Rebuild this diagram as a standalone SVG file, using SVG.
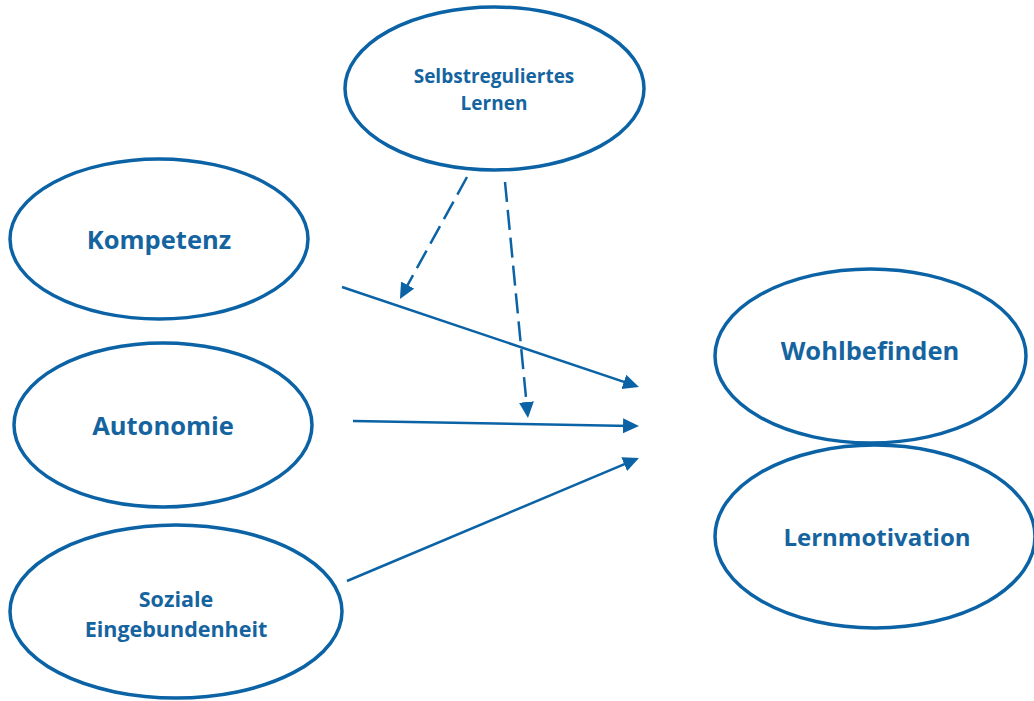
<svg xmlns="http://www.w3.org/2000/svg" width="1034" height="701" viewBox="0 0 1034 701">
<style>
.node ellipse{fill:#ffffff;stroke:#0b63a6;stroke-width:3.5}
.lbl{font-family:"Open Sans","Liberation Sans",sans-serif;font-weight:bold;fill:#15649f;text-anchor:middle}
.big{font-size:25.5px}
.lm{font-size:24px}
.mid{font-size:21.5px}
.sml{font-size:19px}
.edge{fill:none;stroke:#0b63a6;stroke-width:2.5}
.dash{stroke-dasharray:20 8}
</style>
<defs>
<marker id="ah" markerUnits="userSpaceOnUse" markerWidth="18" markerHeight="16" refX="8" refY="7.5" orient="auto" viewBox="0 0 18 16">
<path d="M0,0 L16,7.5 L0,15 z" fill="#0b63a6"/>
</marker>
</defs>
<rect width="1034" height="701" fill="#ffffff"/>
<g id="connectors">
<path class="edge" d="M342,287 L631.4,384.4" marker-end="url(#ah)"/>
<path class="edge" d="M353,421 L631,425.9" marker-end="url(#ah)"/>
<path class="edge" d="M347,581 L631.6,461.1" marker-end="url(#ah)"/>
<path class="edge dash" d="M467,177 L403.8,292" marker-end="url(#ah)"/>
<path class="edge dash" d="M505,182 L527.2,410" marker-end="url(#ah)"/>
</g>
<g id="selbstreguliertes" class="node">
<ellipse cx="494.5" cy="88.5" rx="149.5" ry="81.5"/>
<text class="lbl sml" x="494" y="83">Selbstreguliertes</text>
<text class="lbl sml" x="494" y="110">Lernen</text>
</g>
<g id="kompetenz" class="node">
<ellipse cx="159" cy="239" rx="149" ry="80"/>
<text class="lbl big" x="159" y="249">Kompetenz</text>
</g>
<g id="autonomie" class="node">
<ellipse cx="163" cy="425" rx="149" ry="82"/>
<text class="lbl big" x="163" y="435">Autonomie</text>
</g>
<g id="soziale" class="node">
<ellipse cx="176" cy="611.5" rx="166" ry="86.5"/>
<text class="lbl mid" x="176" y="607">Soziale</text>
<text class="lbl mid" x="176" y="637">Eingebundenheit</text>
</g>
<g id="wohlbefinden" class="node">
<ellipse cx="870.5" cy="356" rx="155.5" ry="87"/>
<text class="lbl big" x="870" y="360">Wohlbefinden</text>
</g>
<g id="lernmotivation" class="node">
<ellipse cx="875" cy="536.5" rx="160" ry="91.5"/>
<text class="lbl lm" x="877" y="546">Lernmotivation</text>
</g>
</svg>
